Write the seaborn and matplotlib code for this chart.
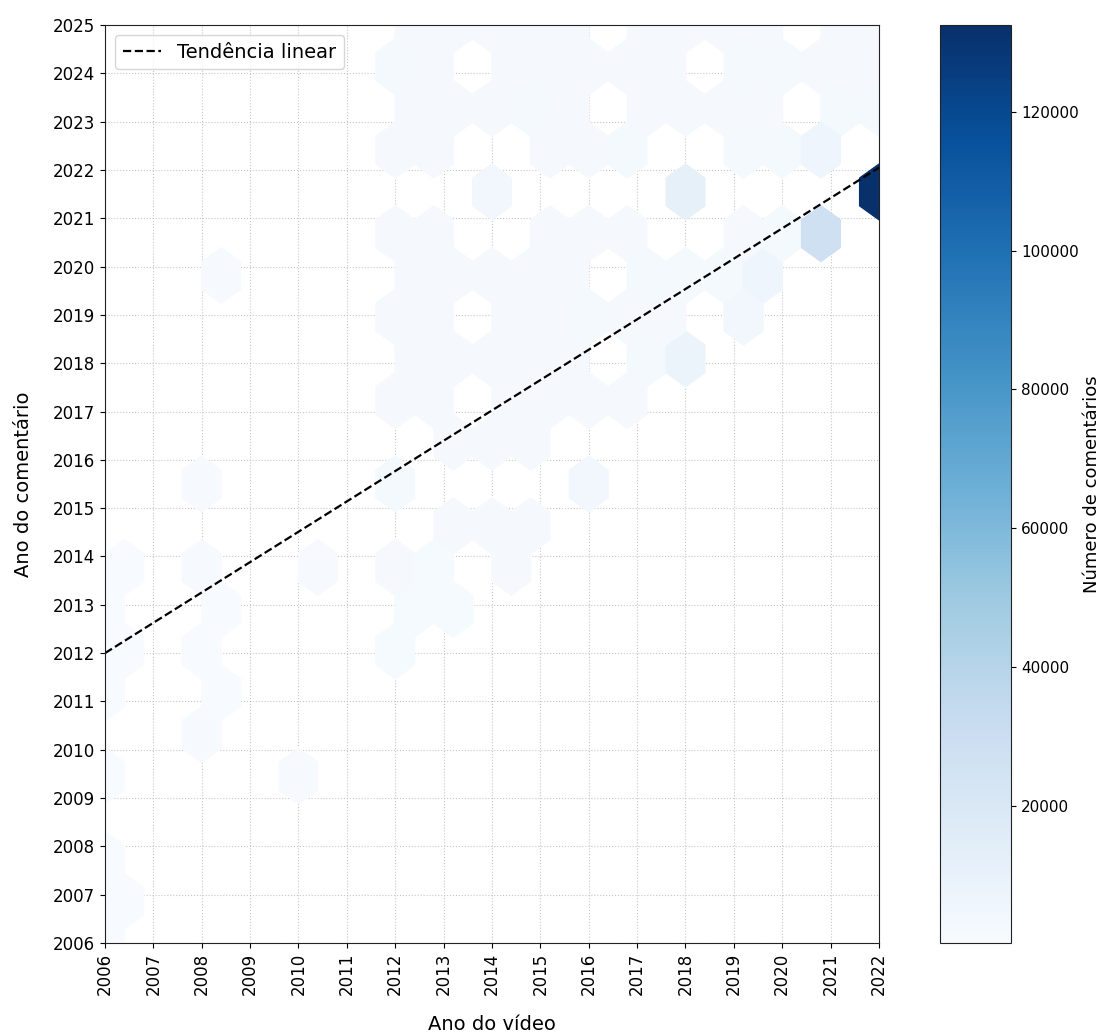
import numpy as np
import pandas as pd
import matplotlib
matplotlib.use('Agg')
import matplotlib.pyplot as plt
import seaborn as sns

# comment years 2006..2025, one list of comment counts per video year
comment_years = list(range(2006, 2026))

video_2006 = [250, 700, 400, 600, 0, 300, 500, 300, 600, 0, 0, 0, 0, 0, 0, 0, 0, 0, 0, 0]
video_2008 = [0, 0, 0, 0, 800, 500, 700, 600, 1000, 0, 900, 0, 0, 0, 900, 0, 0, 0, 0, 0]
video_2010 = [0, 0, 0, 0, 900, 0, 0, 0, 800, 0, 0, 0, 0, 0, 0, 0, 0, 0, 0, 0]
video_2012 = [0, 0, 0, 0, 0, 0, 1500, 1300, 1800, 1300, 1400, 2100, 2000, 2200, 2100, 2000, 2300, 2100, 2400, 2100]
video_2013 = [0, 0, 0, 0, 0, 0, 0, 1400, 1700, 1900, 2000, 2100, 2000, 2200, 1900, 2100, 2300, 2100, 2200, 2000]
video_2014 = [0, 0, 0, 0, 0, 0, 0, 0, 2000, 2200, 2100, 2300, 2100, 2000, 2200, 2400, 2100, 2200, 2300, 2100]
video_2015 = [0, 0, 0, 0, 0, 0, 0, 0, 0, 2100, 2000, 1900, 2200, 2300, 2100, 2000, 2200, 2400, 2200, 2000]
video_2016 = [0, 0, 0, 0, 0, 0, 0, 0, 0, 0, 4200, 2000, 2200, 2400, 2100, 2200, 2300, 2000, 2200, 2100]
video_2017 = [0, 0, 0, 0, 0, 0, 0, 0, 0, 0, 0, 2300, 2400, 2100, 2500, 2200, 2400, 2200, 2300, 2000]
video_2018 = [0, 0, 0, 0, 0, 0, 0, 0, 0, 0, 0, 0, 8500, 2200, 2400, 6000, 6000, 2300, 2200, 2100]
video_2019 = [0, 0, 0, 0, 0, 0, 0, 0, 0, 0, 0, 0, 0, 4500, 2400, 2200, 2500, 2200, 2400, 2200]
video_2020 = [0, 0, 0, 0, 0, 0, 0, 0, 0, 0, 0, 0, 0, 0, 6000, 2400, 2500, 2200, 2400, 2100]
video_2021 = [0, 0, 0, 0, 0, 0, 0, 0, 0, 0, 0, 0, 0, 0, 0, 28000, 6500, 2400, 2200, 2000]
video_2022 = [0, 0, 0, 0, 0, 0, 0, 0, 0, 0, 0, 0, 0, 0, 0, 0, 132500, 2400, 2300, 2100]

# linear trend
trend_start = 2012.0   # comment year at video year 2006
trend_slope = 0.628

series = {
    2006: video_2006, 2008: video_2008, 2010: video_2010, 2012: video_2012,
    2013: video_2013, 2014: video_2014, 2015: video_2015, 2016: video_2016,
    2017: video_2017, 2018: video_2018, 2019: video_2019, 2020: video_2020,
    2021: video_2021, 2022: video_2022,
}
rows = []
for vy, counts in series.items():
    for cy, n in zip(comment_years, counts):
        if n > 0:
            rows.append((vy, cy, n))
df = pd.DataFrame(rows, columns=['ano_video', 'ano_comentario', 'n'])

sns.set_style('ticks')
plt.rcParams['font.family'] = ['DejaVu Sans']
plt.rcParams['text.color'] = 'black'
plt.rcParams['axes.labelcolor'] = 'black'

fig = plt.figure(figsize=(11.03, 10.34), dpi=100)
ax = fig.add_axes([0.0952, 0.088, 0.7017, 0.8878])
cax = fig.add_axes([0.852, 0.088, 0.065, 0.8878])

hb = ax.hexbin(df['ano_video'], df['ano_comentario'], C=df['n'],
               reduce_C_function=np.sum, gridsize=20, cmap='Blues')

xs = np.array([df['ano_video'].min(), df['ano_video'].max()])
ax.plot(xs, trend_start + trend_slope * (xs - xs[0]), 'k--', lw=1.6,
        label='Tendência linear')

ax.set_xlim(2006, 2022)
ax.set_ylim(2006, 2025)
ax.set_xticks(range(2006, 2023))
ax.set_yticks(range(2006, 2026))
ax.tick_params(axis='x', rotation=90, labelsize=12, colors='black')
ax.tick_params(axis='y', labelsize=12, colors='black')
ax.grid(True, linestyle=':', color='#b0b0b0', linewidth=0.8, alpha=0.7)
for s in ax.spines.values():
    s.set_color('#222222')
ax.set_xlabel('Ano do vídeo', fontsize=14, labelpad=14)
ax.set_ylabel('Ano do comentário', fontsize=14, labelpad=14)
ax.legend(loc='upper left', fontsize=14)

cb = fig.colorbar(hb, cax=cax)
cb.set_label('Número de comentários', fontsize=13, labelpad=3)
cb.ax.tick_params(labelsize=11, colors='black')
cb.outline.set_edgecolor('#222222')

plt.savefig('out.png', dpi=100)
plt.close()
